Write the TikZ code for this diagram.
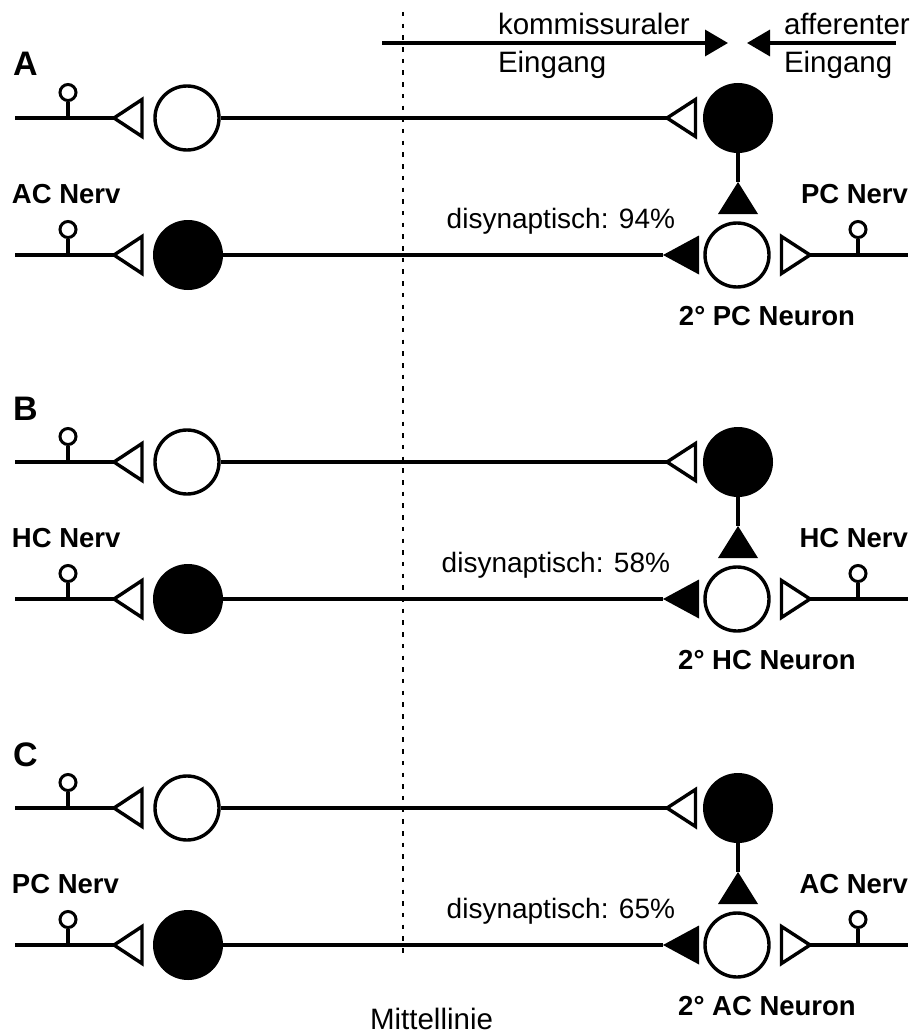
\documentclass[tikz,border=0pt]{standalone}
\usepackage{fontspec}
\setmainfont{Liberation Sans}
\usetikzlibrary{calc,arrows.meta}

\tikzset{
  wire/.style={line width=3.4pt},
  openn/.style={circle, draw, line width=3.4pt, fill=white, minimum size=64pt, inner sep=0pt},
  filln/.style={circle, fill=black, minimum size=70pt, inner sep=0pt},
  opensyn/.style={draw, line width=3.4pt, fill=white, line join=miter},
  knob/.style={circle, draw, line width=3pt, fill=white, minimum size=16pt, inner sep=0pt},
  txt/.style={inner sep=0pt, outer sep=0pt},
  reg/.style={txt, font=\fontsize{28}{32}\selectfont},
  big/.style={txt, font=\fontsize{29.5}{34}\selectfont},
  bold/.style={txt, font=\fontsize{27.5}{32}\selectfont\bfseries},
  letter/.style={txt, font=\fontsize{34}{38}\selectfont\bfseries},
  midline/.style={line width=2.6pt, dash pattern=on 4.5pt off 7.2pt},
  inarrow/.style={line width=3.4pt, -{Triangle[length=23pt,width=26pt]}},
}

% One panel: two commissural neurons on the left, the inhibitory cell and
% the second-order neuron on the right.
% #1 prefix, #2 y of the upper row, #3 panel letter, #4 left nerve,
% #5 right nerve, #6 percentage, #7 right end of the percentage text,
% #8 name of the second-order neuron
\newcommand\neuronpanel[8]{%
  \pgfmathsetmacro\yt{#2}
  \pgfmathsetmacro\yb{#2+137}
  % upper row
  \coordinate (#1-ta) at (15,\yt);
  \coordinate (#1-j1) at (68,\yt);
  \coordinate (#1-ts) at (114,\yt);
  \node[openn] (#1-tn) at (187,\yt) {};
  \coordinate (#1-tr) at (667,\yt);
  \node[filln] (#1-in) at (738,\yt) {};
  \coordinate (#1-up) at (738,\yt+64);
  % lower row
  \coordinate (#1-ba) at (15,\yb);
  \coordinate (#1-j2) at (68,\yb);
  \coordinate (#1-bs) at (114,\yb);
  \node[filln] (#1-bn) at (188,\yb) {};
  \coordinate (#1-bl) at (663,\yb);
  \node[openn] (#1-pn) at (737,\yb) {};
  \coordinate (#1-rs) at (810,\yb);
  \coordinate (#1-j3) at (858,\yb);
  \coordinate (#1-re) at (908,\yb);
  % receptor knobs on the nerves
  \node[knob] (#1-k1) at (68,\yt-25.5) {};
  \node[knob] (#1-k2) at (68,\yb-25.5) {};
  \node[knob] (#1-k3) at (858,\yb-25.5) {};
  \draw[wire] (#1-k1) -- (#1-j1);
  \draw[wire] (#1-k2) -- (#1-j2);
  \draw[wire] (#1-k3) -- (#1-j3);
  % upper connections
  \draw[wire] (#1-ta) -- (#1-ts);
  \draw[opensyn] (#1-ts) -- ++(28,-18.5) -- ++(0,37) -- cycle;
  \draw[wire] (#1-tn) -- (#1-tr);
  \draw[opensyn] (#1-tr) -- ++(28.5,-18.5) -- ++(0,37) -- cycle;
  \draw[wire] (#1-in) -- (#1-up);
  \fill (#1-up) -- ++(20,32) -- ++(-40,0) -- cycle;
  % lower connections
  \draw[wire] (#1-ba) -- (#1-bs);
  \draw[opensyn] (#1-bs) -- ++(28,-18.5) -- ++(0,37) -- cycle;
  \draw[wire] (#1-bn) -- (#1-bl);
  \fill (#1-bl) -- ++(36,-19.5) -- ++(0,39) -- cycle;
  \draw[wire] (#1-rs) -- (#1-re);
  \draw[opensyn] (#1-rs) -- ++(-28.5,-18.5) -- ++(0,37) -- cycle;
  % labels
  \node[letter, anchor=base west] (#1-lab) at (13,\yt-42) {#3};
  \node[bold, anchor=base west] (#1-ln) at (12,\yb-52) {#4};
  \node[bold, anchor=base east] (#1-rn) at (908,\yb-52) {#5};
  \node[reg, anchor=base east] (#1-pc) at (#7,\yb-27) {disynaptisch: #6};
  \node[bold, anchor=base] (#1-nl) at (767,\yb+70) {2° #8 Neuron};
}

\begin{document}
\begin{tikzpicture}[x=1pt, y=-1pt]
  \useasboundingbox (0,0) rectangle (915,1035);
  \fill[white] (0,0) rectangle (915,1035);

  % midline
  \coordinate (mtop) at (403,12);
  \coordinate (mbot) at (403,955);
  \draw[midline] (mtop) -- (mbot);
  \node[big, anchor=base] (mlabel) at (431.5,1029) {Mittellinie};

  % input directions
  \coordinate (kstart) at (382,43);
  \coordinate (kend) at (728,43);
  \coordinate (astart) at (896,43);
  \coordinate (aend) at (747,43);
  \draw[inarrow] (kstart) -- (kend);
  \draw[inarrow] (astart) -- (aend);
  \node[big, anchor=base west] (k1) at (498,35) {kommissuraler};
  \node[big, anchor=base west] (k2) at (498,73) {Eingang};
  \node[big, anchor=base west] (a1) at (784,35) {afferenter};
  \node[big, anchor=base west] (a2) at (784,73) {Eingang};

  \neuronpanel{pa}{118}{A}{AC Nerv}{PC Nerv}{94\%}{675}{PC}
  \neuronpanel{pb}{462}{B}{HC Nerv}{HC Nerv}{58\%}{670}{HC}
  \neuronpanel{pc}{808}{C}{PC Nerv}{AC Nerv}{65\%}{675}{AC}
\end{tikzpicture}
\end{document}
